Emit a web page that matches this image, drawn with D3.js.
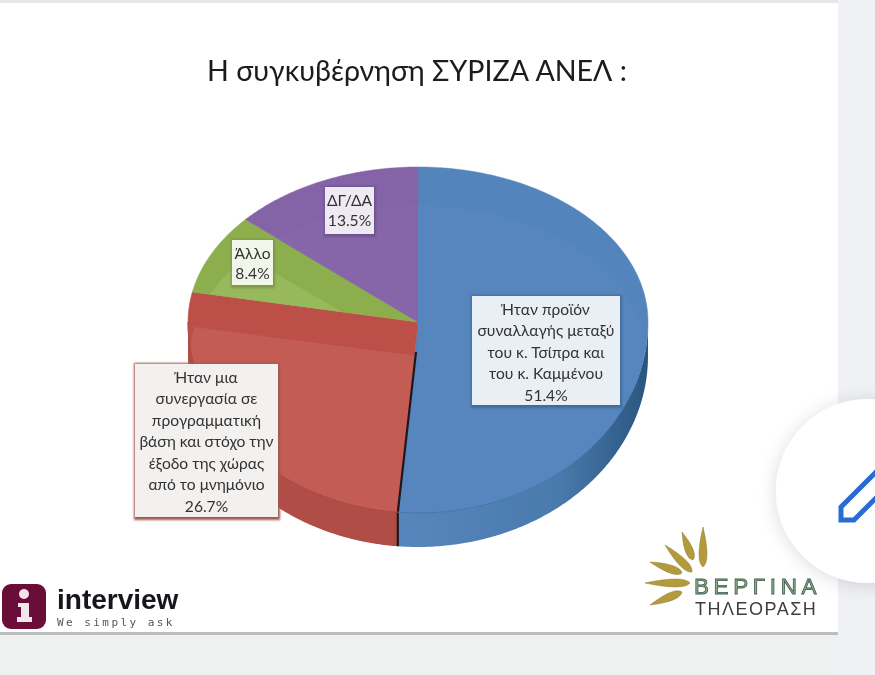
<!DOCTYPE html>
<html>
<head>
<meta charset="utf-8">
<script src="https://cdn.jsdelivr.net/npm/d3@7"></script>
<style>
  html, body { margin: 0; padding: 0; background: #f0f1f4; overflow: hidden; }
  svg { display: block; }
  text { font-family: Lato, "Open Sans", "Noto Sans", sans-serif; }
</style>
</head>
<body>
<script>
const title = 'Η συγκυβέρνηση ΣΥΡΙΖΑ ΑΝΕΛ :'

const categories = [
  ['Ήταν προϊόν', 'συναλλαγής μεταξύ', 'του κ. Τσίπρα και', 'του κ. Καμμένου'],
  ['Ήταν μια', 'συνεργασία σε', 'προγραμματική', 'βάση και στόχο την', 'έξοδο της χώρας', 'από το μνημόνιο'],
  ['Άλλο'],
  ['ΔΓ/ΔΑ']
]
const values = [51.4, 26.7, 8.4, 13.5]

const topColors = ['#5384bc', '#bd4f49', '#8dae4e', '#8464a6']
const innerColors = ['#5686bd', '#c35b55', '#98b85c', '#8666a8']
const sideColors = ['url(#blueSide)', '#b04d46', '#7d9a42', '#6f5390']
const boxes = [
  { x: 472, y: 296, w: 148, h: 109, fill: '#e9eff5', edge: '#3f6c9c' },
  { x: 135, y: 364, w: 143, h: 153, fill: '#f3f1f0', edge: '#a5574f' },
  { x: 232, y: 240, w: 41, h: 45, fill: '#f2f6ea', edge: '#7d9a42' },
  { x: 325, y: 187, w: 49, h: 47, fill: '#eeeaf3', edge: '#6f5390' }
]

const W = 875, H = 675
const cx = 418, cy = 322, rx = 230, ryUp = 155, ryDown = 191, depth = 34, bevel = 34

const svg = d3.select('body')
  .append('svg')
  .attr('width', W)
  .attr('height', H)

const defs = svg.append('defs')

const sideGrad = defs.append('linearGradient')
  .attr('id', 'blueSide')
  .attr('gradientUnits', 'userSpaceOnUse')
  .attr('x1', 420).attr('x2', 648).attr('y1', 0).attr('y2', 0)
sideGrad.append('stop').attr('offset', '0').attr('stop-color', '#5585ba')
sideGrad.append('stop').attr('offset', '0.6').attr('stop-color', '#4a7aac')
sideGrad.append('stop').attr('offset', '1').attr('stop-color', '#2a5680')

const rayGrad = defs.append('linearGradient').attr('id', 'rayGold')
rayGrad.append('stop').attr('offset', '0').attr('stop-color', '#d8cfa0')
rayGrad.append('stop').attr('offset', '1').attr('stop-color', '#a58a2e')

defs.append('filter').attr('id', 'btnShadow')
  .attr('x', '-30%').attr('y', '-30%').attr('width', '160%').attr('height', '160%')
  .append('feDropShadow')
  .attr('dx', 0).attr('dy', 2).attr('stdDeviation', 9)
  .attr('flood-color', '#000').attr('flood-opacity', 0.14)

defs.append('filter').attr('id', 'soft')
  .append('feGaussianBlur').attr('stdDeviation', 0.45)

defs.append('filter').attr('id', 'softer')
  .attr('x', '-10%').attr('y', '-10%').attr('width', '120%').attr('height', '120%')
  .append('feGaussianBlur').attr('stdDeviation', 1)

// page behind the slide
svg.append('rect').attr('width', W).attr('height', H).attr('fill', '#f0f1f4')
svg.append('rect').attr('y', 0).attr('width', 838).attr('height', 3).attr('fill', '#e6e7e6')
svg.append('rect').attr('y', 632).attr('width', 838).attr('height', 3).attr('fill', '#bdbfbf')
svg.append('rect').attr('y', 635).attr('width', 838).attr('height', 40).attr('fill', '#eff0f0')
svg.append('rect').attr('y', 3).attr('width', 838).attr('height', 629).attr('fill', '#ffffff')

svg.append('text')
  .attr('x', 417)
  .attr('y', 81)
  .attr('text-anchor', 'middle')
  .attr('font-size', 28.6)
  .attr('fill', '#1a1a1a')
  .attr('filter', 'url(#soft)')
  .text(title)

// pie is drawn with a stretched front half, like the tilted slide graphic
function project(a, lift, radiusX, up, down) {
  const c = Math.cos(a)
  return [
    cx + radiusX * Math.sin(a),
    cy + lift - (c > 0 ? up : down) * c
  ]
}

const pie = d3.pie().sort(null)
const slices = pie(values)
const line = d3.line()

function rimPoints(d, lift, radiusX, up, down) {
  const n = Math.ceil((d.endAngle - d.startAngle) / 0.01)
  return d3.range(n + 1).map(i => {
    const a = d.startAngle + (d.endAngle - d.startAngle) * i / n
    return project(a, lift, radiusX, up, down)
  })
}

function wedge(d, lift, radiusX, up, down) {
  return line([[cx, cy + lift], ...rimPoints(d, lift, radiusX, up, down)]) + 'Z'
}

// side wall, only the front part of the rim shows
function wall(d) {
  const front = {
    startAngle: Math.max(d.startAngle, Math.PI / 2),
    endAngle: Math.min(d.endAngle, Math.PI * 1.5)
  }
  if (front.startAngle >= front.endAngle) return null
  const upper = rimPoints(front, 0, rx, ryUp, ryDown)
  const lower = rimPoints(front, depth, rx, ryUp, ryDown).reverse()
  return line([...upper, ...lower]) + 'Z'
}

const pieG = svg.append('g').attr('filter', 'url(#soft)')

pieG.selectAll('path.side')
  .data(slices)
  .enter()
  .filter(d => wall(d) !== null)
  .append('path')
  .attr('class', 'side')
  .attr('d', wall)
  .attr('fill', d => sideColors[d.index])

pieG.selectAll('path.top')
  .data(slices)
  .enter()
  .append('path')
  .attr('class', 'top')
  .attr('d', d => wedge(d, 0, rx, ryUp, ryDown))
  .attr('fill', d => topColors[d.index])
  .attr('stroke', d => topColors[d.index])
  .attr('stroke-width', 0.5)

// lighter inner face, cut by each slice
defs.selectAll('clipPath')
  .data(slices)
  .enter()
  .append('clipPath')
  .attr('id', d => 'clip' + d.index)
  .append('path')
  .attr('d', d => wedge(d, 0, rx, ryUp, ryDown))

pieG.selectAll('path.inner')
  .data(slices)
  .enter()
  .append('path')
  .attr('class', 'inner')
  .attr('clip-path', d => `url(#clip${d.index})`)
  .attr('d', d => wedge(d, bevel, rx - 2, ryUp - 5, ryDown - 20))
  .attr('fill', d => innerColors[d.index])

// dark seam between blue and red
const seamA = slices[0].endAngle
pieG.append('path')
  .attr('d', line([[cx - 2, cy + 30], project(seamA, 0, rx, ryUp, ryDown), project(seamA, depth, rx, ryUp, ryDown)]))
  .attr('fill', 'none')
  .attr('stroke', '#20181c')
  .attr('stroke-width', 2.2)

// rim line on the front of the pie
pieG.selectAll('path.rim')
  .data(slices.slice(0, 2))
  .enter()
  .append('path')
  .attr('class', 'rim')
  .attr('d', d => wall(d) && line(rimPoints({
    startAngle: Math.max(d.startAngle, Math.PI * 0.62),
    endAngle: Math.min(d.endAngle, Math.PI * 1.5)
  }, 0, rx, ryUp, ryDown)))
  .attr('fill', 'none')
  .attr('stroke', (d, i) => i === 0 ? '#4674a6' : '#a4483f')
  .attr('stroke-width', 1)

// data labels
const labels = svg.append('g')
  .selectAll('g')
  .data(slices)
  .enter()
  .append('g')
  .attr('transform', d => `translate(${boxes[d.index].x},${boxes[d.index].y})`)

labels.append('rect')
  .attr('x', -1).attr('y', -1)
  .attr('width', d => boxes[d.index].w + 3)
  .attr('height', d => boxes[d.index].h + 4)
  .attr('fill', d => boxes[d.index].edge)
  .attr('filter', 'url(#softer)')

labels.append('rect')
  .attr('width', d => boxes[d.index].w)
  .attr('height', d => boxes[d.index].h)
  .attr('fill', d => boxes[d.index].fill)

labels.each(function (d) {
  const box = boxes[d.index]
  const rows = [...categories[d.index], d.value.toFixed(1) + '%']
  const step = rows.length > 2 ? 21.5 : 20.5
  d3.select(this).selectAll('text')
    .data(rows)
    .enter()
    .append('text')
    .attr('x', box.w / 2)
    .attr('y', (r, i) => 18.5 + i * step)
    .attr('text-anchor', 'middle')
    .attr('font-size', 15.6)
    .attr('fill', '#333333')
    .attr('filter', 'url(#soft)')
    .text(r => r)
})

// interview logo
const logo = svg.append('g').attr('filter', 'url(#soft)')
logo.append('rect')
  .attr('x', 2).attr('y', 584).attr('width', 44).attr('height', 45).attr('rx', 9)
  .attr('fill', '#6a0b37')
logo.append('circle').attr('cx', 24).attr('cy', 594).attr('r', 5).attr('fill', '#f3e6ea')
logo.append('path')
  .attr('d', 'M18 603h11v14h3v5H17v-5h4v-10h-3z')
  .attr('fill', '#f3e6ea')
logo.append('text')
  .attr('x', 57).attr('y', 609)
  .attr('font-size', 28).attr('font-weight', 700)
  .attr('fill', '#17171a')
  .style('font-family', '"Liberation Sans", sans-serif')
  .text('interview')
logo.append('text')
  .attr('x', 57).attr('y', 626)
  .attr('font-size', 11).attr('letter-spacing', 2.45)
  .attr('fill', '#55565a')
  .style('font-family', '"DejaVu Sans Mono", monospace')
  .text('We simply ask')

// station logo
const rays = [
  [[703, 527], [703, 567]],
  [[682, 532], [693, 560]],
  [[665, 545], [692, 572]],
  [[650, 562], [682, 573]],
  [[645, 583], [690, 583]],
  [[650, 605], [682, 592]]
]
const sun = svg.append('g').attr('filter', 'url(#soft)')
sun.selectAll('path')
  .data(rays)
  .enter()
  .append('path')
  .attr('d', ([tip, base]) => {
    const dx = base[0] - tip[0], dy = base[1] - tip[1]
    const len = Math.hypot(dx, dy), nx = -dy / len * 8, ny = dx / len * 8
    const mx = tip[0] + dx * 0.85, my = tip[1] + dy * 0.85
    return `M${tip}Q${mx + nx},${my + ny} ${base}Q${mx - nx},${my - ny} ${tip}Z`
  })
  .attr('fill', '#b29a3e')
  .attr('stroke', '#8f7c2c')
  .attr('stroke-width', 0.5)
sun.append('text')
  .attr('x', 694).attr('y', 594)
  .attr('font-size', 22.5).attr('letter-spacing', 4.6)
  .attr('fill', '#8fb08c')
  .attr('stroke', '#3f5c4c').attr('stroke-width', 0.8)
  .style('font-family', '"Liberation Sans", sans-serif')
  .text('ΒΕΡΓΙΝΑ')
sun.append('text')
  .attr('x', 695).attr('y', 615)
  .attr('font-size', 18).attr('letter-spacing', 1.5)
  .attr('fill', '#3e3e40')
  .style('font-family', '"Liberation Sans", sans-serif')
  .text('ΤΗΛΕΟΡΑΣΗ')

// round edit button from the phone screenshot
svg.append('circle')
  .attr('cx', 868).attr('cy', 491).attr('r', 92)
  .attr('fill', '#ffffff')
  .attr('filter', 'url(#btnShadow)')
svg.append('path')
  .attr('d', 'M880 468L841 507V520H854L893 481')
  .attr('fill', 'none')
  .attr('stroke', '#2a6dd2')
  .attr('stroke-width', 5)
</script>
</body>
</html>
